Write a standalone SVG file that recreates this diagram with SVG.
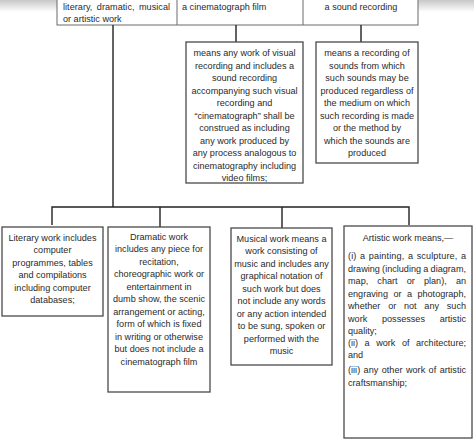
<svg xmlns="http://www.w3.org/2000/svg" width="474" height="439" viewBox="0 0 474 439">
<defs>
<linearGradient id="shade" x1="0" y1="0" x2="0" y2="1">
<stop offset="0" stop-color="#c8c8c8"/>
<stop offset="1" stop-color="#ffffff"/>
</linearGradient>
</defs>
<style>
.box{fill:#fff;stroke:#4a4a4a;stroke-width:1.3}
.cell{fill:#fff;stroke:#6a6a6a;stroke-width:1}
.t{font-family:"Liberation Sans",Arial,sans-serif;font-size:9.1px;fill:#2a2a2a}
.c{text-anchor:middle}
.conn{fill:none;stroke:#222;stroke-width:1.4}
</style>
<rect x="0" y="0" width="474" height="12" fill="url(#shade)"/>
<g id="header">
<rect class="cell" x="57" y="-1" width="361" height="26"/>
<line x1="177" y1="0" x2="177" y2="25" stroke="#6a6a6a"/>
<line x1="303" y1="0" x2="303" y2="25" stroke="#6a6a6a"/>
<text class="t" x="63" y="10" word-spacing="1.9" textLength="107" lengthAdjust="spacing">literary, dramatic, musical</text>
<text class="t" x="63" y="22">or artistic work</text>
<text class="t" x="182" y="10">a cinematograph film</text>
<text class="t c" x="361" y="10">a sound recording</text>
</g>
<g id="connectors">
<path class="conn" d="M113,25 V207 M52,225 V207 H409 V225 M160,207 V227 M282,207 V228"/>
<path class="conn" d="M236,25 V42 M361,25 V42"/>
</g>
<g id="cinematograph">
<rect class="box" x="186" y="42" width="117" height="141"/>
<text class="t c" x="244.5" y="56">means any work of visual</text>
<text class="t c" x="244.5" y="68.5">recording and includes a</text>
<text class="t c" x="244.5" y="81">sound recording</text>
<text class="t c" x="244.5" y="93.5">accompanying such visual</text>
<text class="t c" x="244.5" y="106">recording and</text>
<text class="t c" x="244.5" y="118.5">“cinematograph” shall be</text>
<text class="t c" x="244.5" y="131">construed as including</text>
<text class="t c" x="244.5" y="143.5">any work produced by</text>
<text class="t c" x="244.5" y="156">any process analogous to</text>
<text class="t c" x="244.5" y="168.5">cinematography including</text>
<text class="t c" x="244.5" y="181">video films;</text>
</g>
<g id="sound">
<rect class="box" x="316" y="42" width="102" height="121"/>
<text class="t c" x="367" y="56">means a recording of</text>
<text class="t c" x="367" y="68.5">sounds from which</text>
<text class="t c" x="367" y="81">such sounds may be</text>
<text class="t c" x="367" y="93.5">produced regardless of</text>
<text class="t c" x="367" y="106">the medium on which</text>
<text class="t c" x="367" y="118.5">such recording is made</text>
<text class="t c" x="367" y="131">or the method by</text>
<text class="t c" x="367" y="143.5">which the sounds are</text>
<text class="t c" x="367" y="156">produced</text>
</g>
<g id="literary">
<rect class="box" x="2" y="227" width="101" height="89"/>
<text class="t c" x="52.5" y="240.5">Literary work includes</text>
<text class="t c" x="52.5" y="253">computer</text>
<text class="t c" x="52.5" y="265.5">programmes, tables</text>
<text class="t c" x="52.5" y="278">and compilations</text>
<text class="t c" x="52.5" y="290.5">including computer</text>
<text class="t c" x="52.5" y="303">databases;</text>
</g>
<g id="dramatic">
<rect class="box" x="108" y="227" width="102" height="165"/>
<text class="t c" x="159" y="239.5">Dramatic work</text>
<text class="t c" x="159" y="252">includes any piece for</text>
<text class="t c" x="159" y="264.5">recitation,</text>
<text class="t c" x="159" y="277">choreographic work or</text>
<text class="t c" x="159" y="289.5">entertainment in</text>
<text class="t c" x="159" y="302">dumb show, the scenic</text>
<text class="t c" x="159" y="314.5">arrangement or acting,</text>
<text class="t c" x="159" y="327">form of which is fixed</text>
<text class="t c" x="159" y="339.5">in writing or otherwise</text>
<text class="t c" x="159" y="352">but does not include a</text>
<text class="t c" x="159" y="364.5">cinematograph film</text>
</g>
<g id="musical">
<rect class="box" x="231" y="228" width="101" height="137"/>
<text class="t c" x="281.5" y="241.5">Musical work means a</text>
<text class="t c" x="281.5" y="254">work consisting of</text>
<text class="t c" x="281.5" y="266.5">music and includes any</text>
<text class="t c" x="281.5" y="279">graphical notation of</text>
<text class="t c" x="281.5" y="291.5">such work but does</text>
<text class="t c" x="281.5" y="304">not include any words</text>
<text class="t c" x="281.5" y="316.5">or any action intended</text>
<text class="t c" x="281.5" y="329">to be sung, spoken or</text>
<text class="t c" x="281.5" y="341.5">performed with the</text>
<text class="t c" x="281.5" y="354">music</text>
</g>
<g id="artistic">
<rect class="box" x="344" y="226" width="128" height="212"/>
<text class="t c" x="408" y="241">Artistic work means,—</text>
<text class="t" x="348" y="259" word-spacing="0.9" textLength="118" lengthAdjust="spacing">(i) a painting, a sculpture, a</text>
<text class="t" x="348" y="271.5" word-spacing="-0.3" textLength="118" lengthAdjust="spacing">drawing (including a diagram,</text>
<text class="t" x="348" y="284" word-spacing="6.6" textLength="118" lengthAdjust="spacing">map, chart or plan), an</text>
<text class="t" x="348" y="296.5" word-spacing="2.9" textLength="118" lengthAdjust="spacing">engraving or a photograph,</text>
<text class="t" x="348" y="309" word-spacing="5.2" textLength="118" lengthAdjust="spacing">whether or not any such</text>
<text class="t" x="348" y="321.5" word-spacing="12.2" textLength="118" lengthAdjust="spacing">work possesses artistic</text>
<text class="t" x="348" y="334">quality;</text>
<text class="t" x="348" y="345.5" word-spacing="4" textLength="118" lengthAdjust="spacing">(ii) a work of architecture;</text>
<text class="t" x="348" y="358">and</text>
<text class="t" x="348" y="373" word-spacing="0.9" textLength="118" lengthAdjust="spacing">(iii) any other work of artistic</text>
<text class="t" x="348" y="385.5">craftsmanship;</text>
</g>
</svg>
